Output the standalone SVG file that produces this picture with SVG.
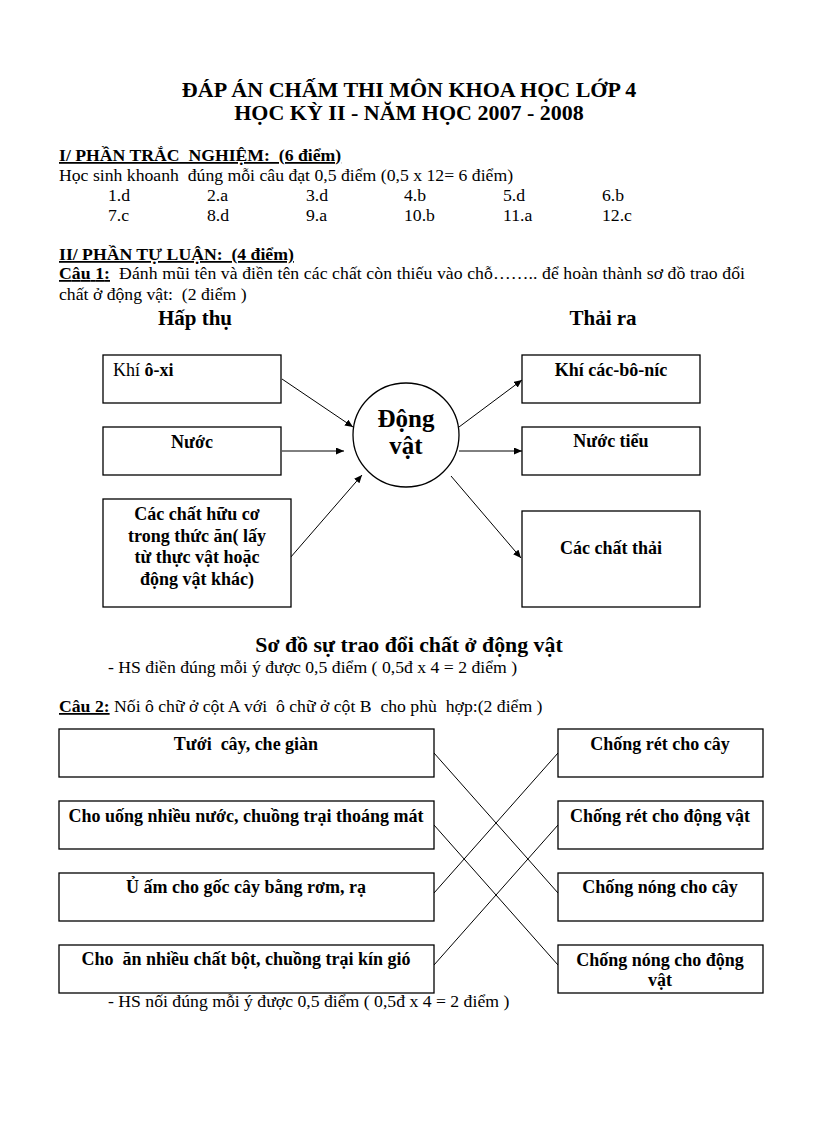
<svg xmlns="http://www.w3.org/2000/svg" width="816" height="1123" viewBox="0 0 816 1123" font-family="'Liberation Serif','Times New Roman',serif">
<style>
text{font-family:"Liberation Serif","Times New Roman",serif;fill:#000}
.t{font-size:22px;font-weight:bold;text-anchor:middle}
.h{font-size:17.7px;font-weight:bold}
.b{font-size:17.7px}
.u{text-decoration:underline}
.bx{fill:#fff;stroke:#000;stroke-width:1.3}
.n{font-size:18px;font-weight:bold;text-anchor:middle}
.big{font-size:21px;font-weight:bold;text-anchor:middle}
.c{stroke:#000;stroke-width:1;fill:none}
</style>
<defs>
<marker id="ah" markerUnits="userSpaceOnUse" markerWidth="9" markerHeight="8" refX="8" refY="3.5" orient="auto">
<path d="M0,0 L8,3.5 L0,7 z" fill="#000"/>
</marker>
</defs>
<rect width="816" height="1123" fill="#fff"/>

<g id="header">
<text class="t" x="409" y="97">ĐÁP ÁN CHẤM THI MÔN KHOA HỌC LỚP 4</text>
<text class="t" x="409" y="120">HỌC KỲ II - NĂM HỌC 2007 - 2008</text>
<text class="h u" x="59" y="161" xml:space="preserve">I/ PHẦN TRẮC  NGHIỆM:  (6 điểm)</text>
<text class="b" x="59" y="181" xml:space="preserve">Học sinh khoanh  đúng mỗi câu đạt 0,5 điểm (0,5 x 12= 6 điểm)</text>
<g>
<text class="b" x="108" y="201">1.d</text><text class="b" x="207" y="201">2.a</text><text class="b" x="306" y="201">3.d</text><text class="b" x="404" y="201">4.b</text><text class="b" x="503" y="201">5.d</text><text class="b" x="602" y="201">6.b</text>
<text class="b" x="108" y="221">7.c</text><text class="b" x="207" y="221">8.d</text><text class="b" x="306" y="221">9.a</text><text class="b" x="404" y="221">10.b</text><text class="b" x="503" y="221">11.a</text><text class="b" x="602" y="221">12.c</text>
</g>
<text class="h u" x="59" y="260" xml:space="preserve">II/ PHẦN TỰ LUẬN:  (4 điểm)</text>
<text class="b" x="59" y="279" textLength="686" lengthAdjust="spacing" xml:space="preserve"><tspan class="h u">Câu 1:</tspan>  Đánh mũi tên và điền tên các chất còn thiếu vào chỗ…….. để hoàn thành sơ đồ trao đổi</text>
<text class="b" x="59" y="300" xml:space="preserve">chất ở động vật:  (2 điểm )</text>
<text class="big" x="195" y="325">Hấp thụ</text>
<text class="big" x="603" y="325">Thải ra</text>
</g>

<g id="connectors1">
<line class="c" x1="282" y1="379" x2="353" y2="427" marker-end="url(#ah)"/>
<line class="c" x1="282" y1="451" x2="344" y2="451" marker-end="url(#ah)"/>
<line class="c" x1="290" y1="558" x2="362" y2="475" marker-end="url(#ah)"/>
<line class="c" x1="459" y1="427" x2="522" y2="380" marker-end="url(#ah)"/>
<line class="c" x1="459" y1="451" x2="522" y2="451" marker-end="url(#ah)"/>
<line class="c" x1="451" y1="476" x2="521" y2="558" marker-end="url(#ah)"/>
</g>

<g id="oxi">
<rect class="bx" x="103" y="355" width="178" height="48"/>
<text x="113" y="376" style="font-size:18px"><tspan>Khí </tspan><tspan font-weight="bold">ô-xi</tspan></text>
</g>
<g id="nuoc">
<rect class="bx" x="103" y="427" width="178" height="48"/>
<text class="n" x="192" y="448">Nước</text>
</g>
<g id="huuco">
<rect class="bx" x="103" y="499" width="188" height="108"/>
<text class="n" x="197" y="520">Các chất hữu cơ</text>
<text class="n" x="197" y="542">trong thức ăn( lấy</text>
<text class="n" x="197" y="563">từ thực vật hoặc</text>
<text class="n" x="197" y="585">động vật khác)</text>
</g>
<g id="dongvat">
<ellipse class="bx" cx="406" cy="435" rx="53" ry="52"/>
<text x="406" y="427" style="font-size:25px;font-weight:bold;text-anchor:middle">Động</text>
<text x="406" y="454" style="font-size:25px;font-weight:bold;text-anchor:middle">vật</text>
</g>
<g id="cacbonic">
<rect class="bx" x="522" y="355" width="178" height="48"/>
<text class="n" x="611" y="376">Khí các-bô-níc</text>
</g>
<g id="nuoctieu">
<rect class="bx" x="522" y="427" width="178" height="48"/>
<text class="n" x="611" y="447">Nước tiểu</text>
</g>
<g id="chatthai">
<rect class="bx" x="522" y="511" width="178" height="96"/>
<text class="n" x="611" y="554">Các chất thải</text>
</g>

<g id="caption">
<text x="409" y="652" style="font-size:21.8px;font-weight:bold;text-anchor:middle">Sơ đồ sự trao đổi chất ở động vật</text>
<text class="b" x="108" y="673" xml:space="preserve">- HS điền đúng mỗi ý được 0,5 điểm ( 0,5đ x 4 = 2 điểm )</text>
<text class="b" x="59" y="712" xml:space="preserve"><tspan class="h u">Câu 2:</tspan> Nối ô chữ ở cột A với  ô chữ ở cột B  cho phù  hợp:(2 điểm )</text>
</g>

<g id="connectors2">
<line class="c" x1="434" y1="753" x2="558" y2="893"/>
<line class="c" x1="434" y1="825" x2="558" y2="965"/>
<line class="c" x1="434" y1="893" x2="558" y2="753"/>
<line class="c" x1="434" y1="965" x2="558" y2="825"/>
</g>

<g id="a1"><rect class="bx" x="59" y="729" width="375" height="48"/><text class="n" x="246" y="750" xml:space="preserve">Tưới  cây, che giàn</text></g>
<g id="a2"><rect class="bx" x="59" y="801" width="375" height="48"/><text class="n" x="246" y="822">Cho uống nhiều nước, chuồng trại thoáng mát</text></g>
<g id="a3"><rect class="bx" x="59" y="873" width="375" height="48"/><text class="n" x="246" y="893">Ủ ấm cho gốc cây bằng rơm, rạ</text></g>
<g id="a4"><rect class="bx" x="59" y="945" width="375" height="48"/><text class="n" x="246" y="965" xml:space="preserve">Cho  ăn nhiều chất bột, chuồng trại kín gió</text></g>

<g id="b1"><rect class="bx" x="558" y="729" width="205" height="48"/><text class="n" x="660" y="750">Chống rét cho cây</text></g>
<g id="b2"><rect class="bx" x="558" y="801" width="205" height="48"/><text class="n" x="660" y="822">Chống rét cho động vật</text></g>
<g id="b3"><rect class="bx" x="558" y="873" width="205" height="48"/><text class="n" x="660" y="893">Chống nóng cho cây</text></g>
<g id="b4"><rect class="bx" x="558" y="945" width="205" height="48"/><text class="n" x="660" y="966">Chống nóng cho động</text><text class="n" x="660" y="986">vật</text></g>

<g id="footer">
<text class="b" x="108" y="1007" xml:space="preserve">- HS nối đúng mỗi ý được 0,5 điểm ( 0,5đ x 4 = 2 điểm )</text>
</g>
</svg>
